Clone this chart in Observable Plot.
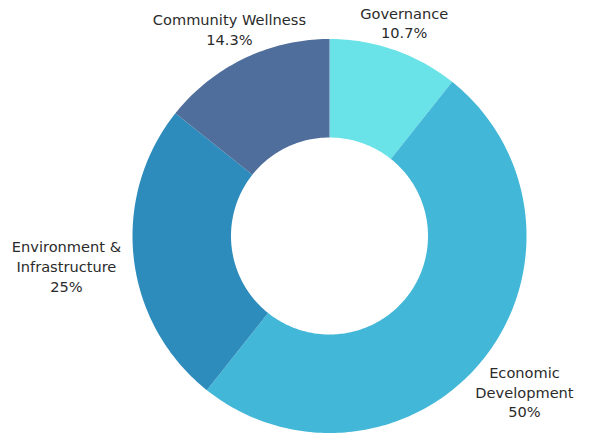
<!DOCTYPE html>
<html>
<head>
<meta charset="utf-8">
<script src="https://cdn.jsdelivr.net/npm/d3@7"></script>
<script src="https://cdn.jsdelivr.net/npm/@observablehq/plot@0.6"></script>
<style>
  html, body { margin: 0; padding: 0; background: #fff; }
  #chart svg { display: block; }
</style>
</head>
<body>
<div id="chart"></div>
<script>
// Data
const categories = ["Governance", "Economic Development", "Environment & Infrastructure", "Community Wellness"];
const shares = [10.7, 50, 25, 14.3];
const labelNames = ["Governance", "Economic\nDevelopment", "Environment &\nInfrastructure", "Community Wellness"];
const pctLabels = ["10.7%", "50%", "25%", "14.3%"];
const colors = ["#6ae3e8", "#42b7d7", "#2e8cbd", "#4f6e9c"];

// Layout
const W = 597, H = 435;
const cx = 329, cy = 235.5, R = 197;
const innerRatio = 0.5;
const labelRadius = [1.15, 1.265, 1.344, 1.17];

const total = d3.sum(shares);
const points = [];
const labels = [];
let cum = 0;
categories.forEach((cat, i) => {
  const a0 = cum / total * 2 * Math.PI;
  cum += shares[i];
  const a1 = cum / total * 2 * Math.PI;
  const n = Math.max(8, Math.ceil((a1 - a0) / (Math.PI / 180)));
  for (let k = 0; k <= n; k++) {
    const a = a0 + (a1 - a0) * k / n;
    points.push({cat, x: Math.sin(a), y: Math.cos(a)});
  }
  for (let k = n; k >= 0; k--) {
    const a = a0 + (a1 - a0) * k / n;
    points.push({cat, x: innerRatio * Math.sin(a), y: innerRatio * Math.cos(a)});
  }
  const am = (a0 + a1) / 2;
  labels.push({cat, x: labelRadius[i] * Math.sin(am), y: labelRadius[i] * Math.cos(am), text: labelNames[i] + "\n" + pctLabels[i]});
});

const chart = Plot.plot({
  width: W,
  height: H,
  margin: 0,
  style: {fontFamily: "DejaVu Sans, sans-serif", background: "#fff"},
  x: {domain: [-cx / R, (W - cx) / R], range: [0, W], axis: null},
  y: {domain: [-(H - cy) / R, cy / R], range: [H, 0], axis: null},
  color: {domain: categories, range: colors},
  marks: [
    Plot.line(points, {x: "x", y: "y", z: "cat", fill: "cat", stroke: null, curve: "linear-closed"}),
    Plot.text(labels, {x: "x", y: "y", text: "text", fill: "#2b2b2b", fontSize: 14.6, lineHeight: 1.36, textAnchor: "middle", lineAnchor: "middle"})
  ]
});
document.getElementById("chart").appendChild(chart);
</script>
</body>
</html>
